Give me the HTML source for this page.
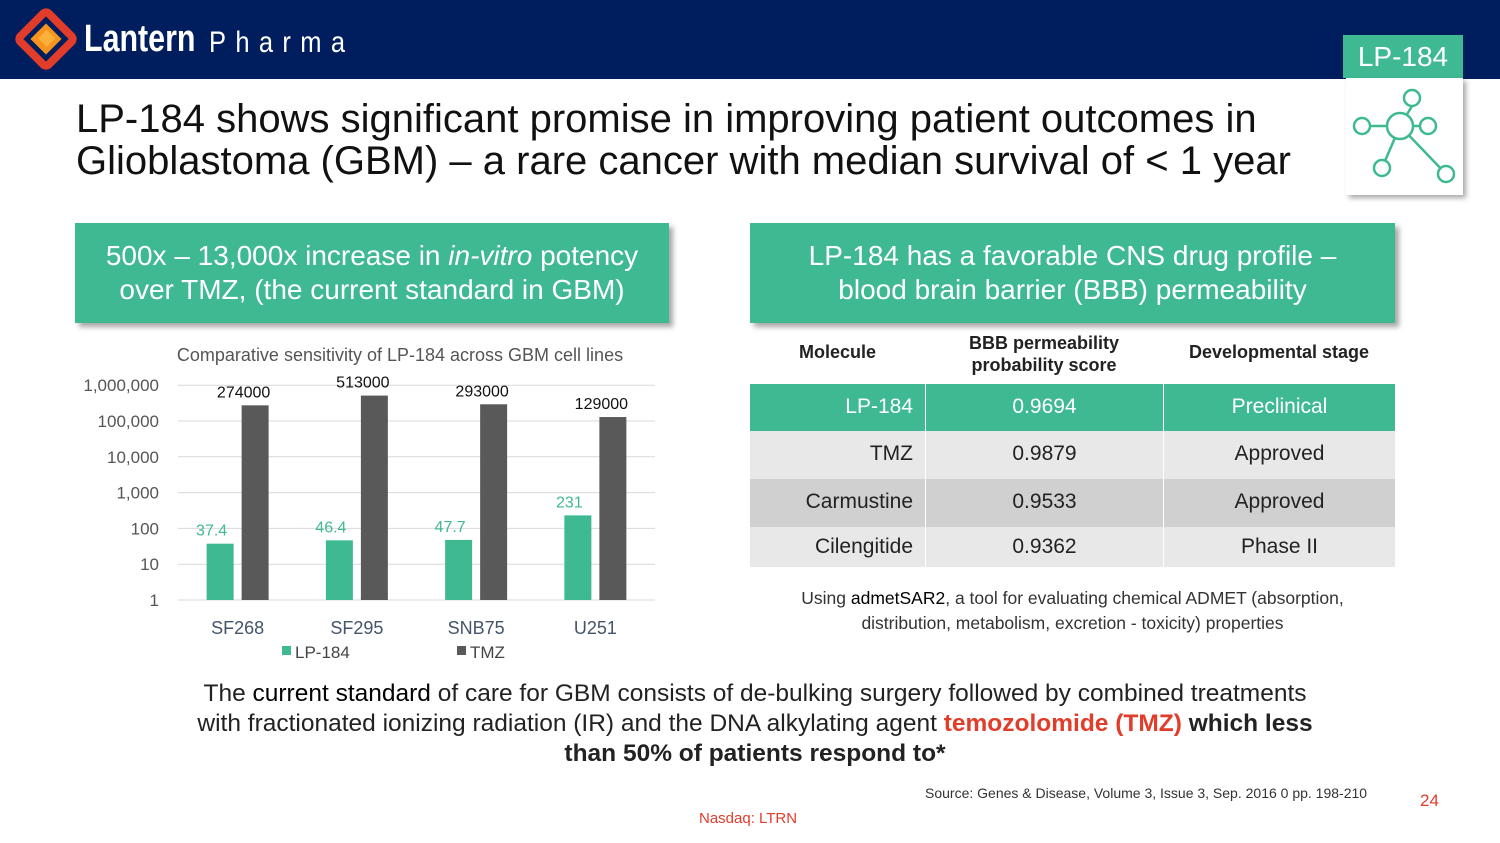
<!DOCTYPE html>
<html><head><meta charset="utf-8"><style>
*{margin:0;padding:0;box-sizing:border-box}
html,body{width:1500px;height:843px;overflow:hidden}
body{background:#fff;position:relative;font-family:"Liberation Sans",sans-serif;color:#222}
.a{position:absolute}
.box{background:#3fb992;color:#fff;font-size:28px;text-align:center;line-height:34px;padding-top:16px;box-shadow:4px 4px 5px rgba(0,0,0,.35);white-space:nowrap}
.row{position:absolute;left:750px;width:645px;height:48px;font-size:21px}
.row div{position:absolute;top:0;height:100%;line-height:46px}
.c1{left:0;width:163px;text-align:right}
.c2{left:175px;width:238px;text-align:center;border-left:1px solid #fff}
.c3{left:413px;width:232px;text-align:center;border-left:1px solid #fff}
</style></head><body>
<div class="a" style="left:0;top:0;width:1500px;height:79px;background:#001e5e"></div>
<svg class="a" style="left:14px;top:8px" width="64" height="62" viewBox="0 0 64 62">
<rect x="12" y="11" width="40" height="40" transform="rotate(45 32 31)" fill="none" stroke="#e23c2a" stroke-width="8" rx="4"/>
<rect x="21" y="20" width="22" height="22" transform="rotate(45 32 31)" fill="#f7941d"/>
<rect x="26" y="24" width="12" height="12" transform="rotate(45 32 31)" fill="#fbb03b"/>
</svg>
<div class="a" style="left:84px;top:18px;color:#fff;font-size:38px;font-weight:bold;transform:scaleX(0.8);transform-origin:0 0;white-space:nowrap">Lantern</div>
<div class="a" style="left:209px;top:26px;color:#fff;font-size:30px;letter-spacing:11px;transform:scaleX(0.85);transform-origin:0 0;white-space:nowrap">Pharma</div>
<div class="a" style="left:1343px;top:35px;width:120px;height:43px;background:#3fb992;color:#fff;font-size:28px;text-align:center;line-height:43px">LP-184</div>
<div class="a" style="left:1346px;top:78px;width:117px;height:117px;background:#fff;box-shadow:3px 3px 5px rgba(0,0,0,.35)">
<svg width="117" height="117" viewBox="0 0 117 117" fill="none" stroke="#3fb992" stroke-width="2.5">
<line x1="54" y1="48" x2="66" y2="28"/><line x1="54" y1="48" x2="16" y2="48"/><line x1="54" y1="48" x2="82" y2="48"/><line x1="54" y1="48" x2="36" y2="90"/><line x1="54" y1="48" x2="100" y2="96"/>
<circle cx="54" cy="48" r="13" fill="#fff"/><circle cx="66" cy="20" r="8" fill="#fff"/><circle cx="16" cy="48" r="8" fill="#fff"/><circle cx="82" cy="48" r="8" fill="#fff"/><circle cx="36" cy="90" r="8" fill="#fff"/><circle cx="100" cy="96" r="8" fill="#fff"/>
</svg></div>
<div class="a" style="left:76px;top:98px;font-size:40px;line-height:42px;color:#111;width:1260px">LP-184 shows significant promise in improving patient outcomes in Glioblastoma (GBM) – a rare cancer with median survival of &lt; 1 year</div>
<div class="a box" style="left:75px;top:223px;width:594px;height:100px">500x – 13,000x increase in <i>in-vitro</i> potency<br>over TMZ, (the current standard in GBM)</div>
<div class="a box" style="left:750px;top:223px;width:645px;height:100px">LP-184 has a favorable CNS drug profile –<br>blood brain barrier (BBB) permeability</div>

<svg class="a" id="chart" style="left:0;top:330px" width="700" height="340"></svg>

<div class="a" style="left:750px;top:342px;width:175px;text-align:center;font-weight:bold;font-size:18px">Molecule</div>
<div class="a" style="left:925px;top:332px;width:238px;text-align:center;font-weight:bold;font-size:18px;line-height:22px">BBB permeability<br>probability score</div>
<div class="a" style="left:1163px;top:342px;width:232px;text-align:center;font-weight:bold;font-size:18px">Developmental stage</div>
<div class="row" style="top:384px;height:47px;background:#3fb992;color:#fff"><div class="c1">LP-184</div><div class="c2">0.9694</div><div class="c3">Preclinical</div></div>
<div class="row" style="top:431px;background:#e8e8e8"><div class="c1">TMZ</div><div class="c2">0.9879</div><div class="c3">Approved</div></div>
<div class="row" style="top:479px;background:#d0d0d0"><div class="c1">Carmustine</div><div class="c2">0.9533</div><div class="c3">Approved</div></div>
<div class="row" style="top:527px;height:40px;background:#e8e8e8"><div class="c1" style="line-height:40px">Cilengitide</div><div class="c2" style="line-height:40px">0.9362</div><div class="c3" style="line-height:40px">Phase II</div></div>
<div class="a" style="left:750px;top:586px;width:645px;text-align:center;font-size:17.5px;line-height:25px;color:#333;white-space:nowrap">Using <span style="color:#000">admetSAR2</span>, a tool for evaluating chemical ADMET (absorption,<br>distribution, metabolism, excretion - toxicity) properties</div>
<div class="a" style="left:100px;top:679px;width:1310px;text-align:center;font-size:24.5px;line-height:30px;color:#222;white-space:nowrap">The <span style="color:#000">current standard</span> of care for GBM consists of de-bulking surgery followed by combined treatments<br>with fractionated ionizing radiation (IR) and the DNA alkylating agent <b style="color:#e23c2a">temozolomide (TMZ)</b> <b>which less</b><br><b>than 50% of patients respond to*</b></div>
<div class="a" style="left:925px;top:785px;font-size:14px;color:#333">Source: Genes &amp; Disease, Volume 3, Issue 3, Sep. 2016 0 pp. 198-210</div>
<div class="a" style="left:1420px;top:791px;font-size:17px;color:#e23c2a">24</div>
<div class="a" style="left:699px;top:810px;font-size:15px;color:#e23c2a">Nasdaq: LTRN</div>

<script>
const categories=["SF268","SF295","SNB75","U251"];
const lpValues=[37.4,46.4,47.7,231];
const tmzValues=[274000,513000,293000,129000];
const lpLabels=["37.4","46.4","47.7","231"];
const tmzLabels=["274000","513000","293000","129000"];
const tickValues=[1,10,100,1000,10000,100000,1000000];
const tickLabels=["1","10","100","1,000","10,000","100,000","1,000,000"];
const svg=document.getElementById('chart');
const NS='http://www.w3.org/2000/svg';
const X0=178,X1=655,Y0=270,DEC=35.8;
function y(v){return Y0-Math.log10(v)*DEC;}
const bw=(X1-X0)/categories.length;
function cx(i){return X0+bw*(i+0.5);}
function mk(t,a,txt){const e=document.createElementNS(NS,t);for(const k in a)e.setAttribute(k,a[k]);if(txt!=null)e.textContent=txt;svg.appendChild(e);return e;}
let e=mk('text',{x:400,y:31,'text-anchor':'middle','font-size':18,fill:'#555','font-family':'Liberation Sans'},'Comparative sensitivity of LP-184 across GBM cell lines');


tickValues.forEach((v,i)=>{
 let g=mk('line',{x1:X0,x2:X1,y1:y(v),y2:y(v),stroke:'#d9d9d9','stroke-width':1});
 
 
 let t=mk('text',{x:159,y:y(v)+6,'text-anchor':'end','font-size':17,fill:'#555','font-family':'Liberation Sans'},tickLabels[i]);
 
 
});
e=mk('text',{x:0,y:0,transform:'translate(108,558) rotate(-90)','text-anchor':'middle','font-size':17,fill:'#333','font-family':'Liberation Sans'},'IC50 [nM]');


categories.forEach((c,i)=>{
 const lx=cx(i)-31, tx=cx(i)+4;
 let b=mk('rect',{x:lx,y:y(lpValues[i]),width:27,height:Y0-y(lpValues[i]),fill:'#3fb992'});
 
 
 b=mk('rect',{x:tx,y:y(tmzValues[i]),width:27,height:Y0-y(tmzValues[i]),fill:'#595959'});
 
 
 let l=mk('text',{x:lx+5,y:y(lpValues[i])-8,'text-anchor':'middle','font-size':16,fill:'#3fb992','font-family':'Liberation Sans'},lpLabels[i]);
 
 
 l=mk('text',{x:tx+2,y:y(tmzValues[i])-8,'text-anchor':'middle','font-size':16,fill:'#111','font-family':'Liberation Sans'},tmzLabels[i]);
 
 
 l=mk('text',{x:cx(i),y:304,'text-anchor':'middle','font-size':18,fill:'#44546a','font-family':'Liberation Sans'},c);
 
 
});
let lg=mk('rect',{x:282,y:316,width:9,height:9,fill:'#3fb992'});


lg=mk('text',{x:295,y:328,'font-size':17,fill:'#444','font-family':'Liberation Sans'},'LP-184');


lg=mk('rect',{x:457,y:316,width:9,height:9,fill:'#595959'});


lg=mk('text',{x:470,y:328,'font-size':17,fill:'#444','font-family':'Liberation Sans'},'TMZ');


</script>
</body></html>
